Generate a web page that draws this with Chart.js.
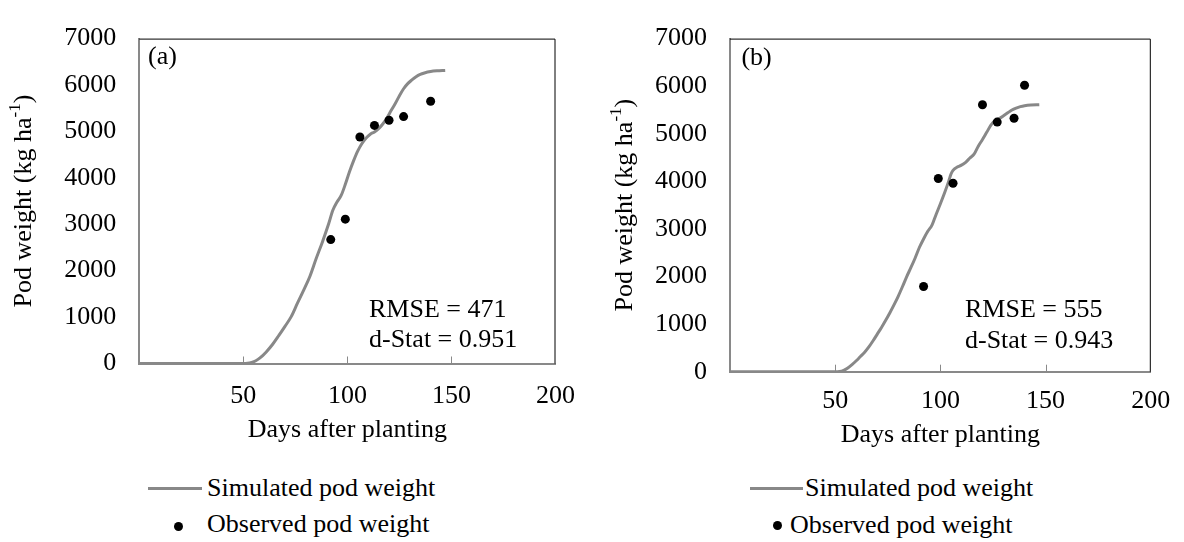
<!DOCTYPE html>
<html>
<head>
<meta charset="utf-8">
<title>Pod weight</title>
<script src="https://cdn.jsdelivr.net/npm/chart.js@4.4.1/dist/chart.umd.min.js"></script>
<style>
  html, body { margin: 0; padding: 0; background: #fff; }
  body { width: 1184px; height: 542px; position: relative; overflow: hidden;
         font-family: 'Liberation Serif', 'Times New Roman', serif; color: #000; }
  .panel { position: absolute; top: 0; width: 592px; height: 470px; }
  .lg { position: absolute; font-size: 26px; line-height: 30px; white-space: nowrap; }
  .lg-line { position: absolute; height: 3px; background: #888; }
  .lg-dot { position: absolute; width: 9px; height: 9px; border-radius: 50%; background: #000; }
</style>
</head>
<body>
<div class="panel" style="left:0"><canvas id="chartA" width="592" height="470"></canvas></div>
<div class="panel" style="left:592px"><canvas id="chartB" width="592" height="470"></canvas></div>

<!-- legends -->
<div class="lg-line" style="left:148px;top:487px;width:54px"></div>
<div class="lg" style="left:207px;top:473px">Simulated pod weight</div>
<div class="lg-dot" style="left:173.5px;top:521.5px"></div>
<div class="lg" style="left:207px;top:509px">Observed pod weight</div>

<div class="lg-line" style="left:750px;top:486.5px;width:53px"></div>
<div class="lg" style="left:805px;top:473px">Simulated pod weight</div>
<div class="lg-dot" style="left:772.5px;top:520.5px"></div>
<div class="lg" style="left:790px;top:510px">Observed pod weight</div>

<script>
const FONT = "'Liberation Serif', 'Times New Roman', serif";
const SIM_COLOR = '#888888';
const AXIS_COLOR = '#898989';

// ---- panel (a) ----
const simDaysA = [0, 10, 20, 30, 40, 50, 52, 54, 56, 58, 61, 64, 67, 70, 73, 76, 79, 82, 85, 88, 91, 93, 95, 97, 99,
                  101, 103, 105, 107, 109, 111, 113, 115, 117, 119, 121, 123, 125, 127, 129, 131, 133, 135, 137, 140, 143, 147];
const simA     = [0, 0, 0, 0, 0, 0, 5, 25, 60, 120, 250, 410, 600, 800, 1010, 1300, 1580, 1880, 2260, 2620, 3010, 3300, 3480, 3620, 3860,
                  4130, 4370, 4580, 4740, 4860, 4940, 4990, 5060, 5160, 5290, 5450, 5600, 5770, 5920, 6030, 6110, 6180, 6230, 6260, 6290, 6305, 6315];
const obsDaysA = [92, 99, 106, 113, 120, 127, 140];
const obsA     = [2670, 3110, 4880, 5130, 5240, 5320, 5650];

// ---- panel (b) ----
const simDaysB = [0, 10, 20, 30, 40, 50, 52, 54, 56, 58, 60, 62, 64, 66, 68, 70, 72, 74, 76, 78, 80, 82, 84, 86, 88, 90, 92, 94, 96, 98,
                  100, 102, 104, 105, 106, 108, 110, 112, 114, 116, 118, 120, 122, 124, 126, 128, 130, 132, 134, 136, 138, 140, 143, 147];
const simB     = [0, 0, 0, 0, 0, 0, 5, 30, 80, 150, 230, 320, 410, 520, 650, 790, 930, 1080, 1240, 1410, 1590, 1790, 2000, 2190, 2390, 2610, 2790, 2950, 3080, 3310,
                  3530, 3760, 4010, 4150, 4230, 4300, 4340, 4400, 4490, 4570, 4740, 4880, 5030, 5180, 5280, 5320, 5380, 5440, 5500, 5540, 5570, 5590, 5605, 5610];
const obsDaysB = [92, 99, 106, 120, 127, 135, 140];
const obsB     = [1790, 4060, 3960, 5610, 5245, 5325, 6020];

// axis ticks
const xTicks = [0, 50, 100, 150, 200];
const yTicks = [0, 1000, 2000, 3000, 4000, 5000, 6000, 7000];

const toPts = (xs, ys) => xs.map((x, i) => ({ x, y: ys[i] }));

// frame, inside tick marks, rotated y title and the stats text
function decor(cfg) {
  return {
    id: 'decor',
    beforeDatasetsDraw(chart) {
      const { ctx, chartArea: a, scales: { x } } = chart;
      ctx.save();
      ctx.strokeStyle = '#000';
      ctx.lineWidth = 1;
      ctx.beginPath();
      ctx.moveTo(a.left, a.top + 0.5);
      ctx.lineTo(a.right - 0.5, a.top + 0.5);
      ctx.lineTo(a.right - 0.5, a.bottom);
      ctx.stroke();
      ctx.strokeStyle = AXIS_COLOR;
      ctx.beginPath();
      xTicks.slice(1, -1).forEach(v => {
        const px = Math.round(x.getPixelForValue(v)) + 0.5;
        ctx.moveTo(px, a.bottom);
        ctx.lineTo(px, a.bottom - 7);
      });
      ctx.stroke();
      ctx.restore();
    },
    afterDraw(chart) {
      const { ctx, chartArea: a } = chart;
      ctx.save();
      ctx.fillStyle = '#000';
      // y title with superscript
      const big = `26px ${FONT}`, small = `17px ${FONT}`;
      const parts = [['Pod weight (kg ha', big, 0], ['-1', small, -9], [')', big, 0]];
      ctx.translate(cfg.yTitleX, (a.top + a.bottom) / 2);
      ctx.rotate(-Math.PI / 2);
      ctx.textBaseline = 'middle';
      let total = 0;
      parts.forEach(p => { ctx.font = p[1]; total += ctx.measureText(p[0]).width; });
      let pos = -total / 2;
      parts.forEach(p => { ctx.font = p[1]; ctx.fillText(p[0], pos, p[2]); pos += ctx.measureText(p[0]).width; });
      ctx.restore();

      ctx.save();
      ctx.fillStyle = '#000';
      ctx.font = big;
      ctx.textBaseline = 'alphabetic';
      ctx.fillText(cfg.tag, cfg.tagPos[0], cfg.tagPos[1]);
      ctx.fillText('RMSE = ' + cfg.rmse, cfg.statX, cfg.statY[0]);
      ctx.fillText('d-Stat = ' + cfg.dstat, cfg.statX, cfg.statY[1]);
      ctx.restore();
    }
  };
}

function makePanel(id, cfg) {
  const font = { family: FONT, size: 26 };
  return new Chart(document.getElementById(id), {
    type: 'scatter',
    data: {
      datasets: [
        { type: 'line', label: 'Simulated pod weight', data: toPts(cfg.simDays, cfg.sim),
          borderColor: SIM_COLOR, borderWidth: 3, pointRadius: 0, tension: 0.4,
          cubicInterpolationMode: 'monotone', fill: false, order: 2 },
        { label: 'Observed pod weight', data: toPts(cfg.obsDays, cfg.obs),
          pointRadius: 4.5, backgroundColor: '#000', borderWidth: 0, order: 1 }
      ]
    },
    options: {
      responsive: false, animation: false, devicePixelRatio: 1, events: [],
      layout: { padding: { left: 0, top: cfg.area.top, right: 592 - cfg.area.right, bottom: 0 } },
      plugins: { legend: { display: false }, tooltip: { enabled: false } },
      scales: {
        x: {
          type: 'linear', min: 0, max: 200,
          afterBuildTicks: s => { s.ticks = xTicks.map(v => ({ value: v })); },
          ticks: { font, color: '#000', padding: cfg.xTickPad, maxRotation: 0, autoSkip: false,
                   callback: v => (v === 0 ? '' : String(v)) },
          grid: { display: false, drawTicks: false },
          border: { color: AXIS_COLOR, width: 2 },
          title: { display: true, text: 'Days after planting', font, color: '#000',
                   padding: { top: 0, bottom: cfg.xTitlePad } },
          afterFit: s => { s.height = 470 - cfg.area.bottom; }
        },
        y: {
          type: 'linear', min: 0, max: 7000,
          afterBuildTicks: s => { s.ticks = yTicks.map(v => ({ value: v })); },
          ticks: { font, color: '#000', padding: 23, autoSkip: false, callback: v => String(v) },
          grid: { display: false, drawTicks: false },
          border: { color: AXIS_COLOR, width: 2 },
          afterFit: s => { s.width = cfg.area.left; }
        }
      }
    },
    plugins: [decor(cfg)]
  });
}

makePanel('chartA', {
  simDays: simDaysA, sim: simA, obsDays: obsDaysA, obs: obsA,
  area: { left: 139.3, top: 22.7, right: 558, bottom: 363.5 },
  xTickPad: 17, xTitlePad: 24.4, yTitleX: 24.5,
  tag: '(a)', tagPos: [148, 64], rmse: '471', dstat: '0.951', statX: 369, statY: [316.5, 346.5]
});

makePanel('chartB', {
  simDays: simDaysB, sim: simB, obsDays: obsDaysB, obs: obsB,
  area: { left: 138, top: 22.7, right: 562.7, bottom: 371.7 },
  xTickPad: 13.7, xTitlePad: 19.4, yTitleX: 33.5,
  tag: '(b)', tagPos: [149.4, 65], rmse: '555', dstat: '0.943', statX: 373, statY: [316.5, 347.5]
});
</script>
</body>
</html>
